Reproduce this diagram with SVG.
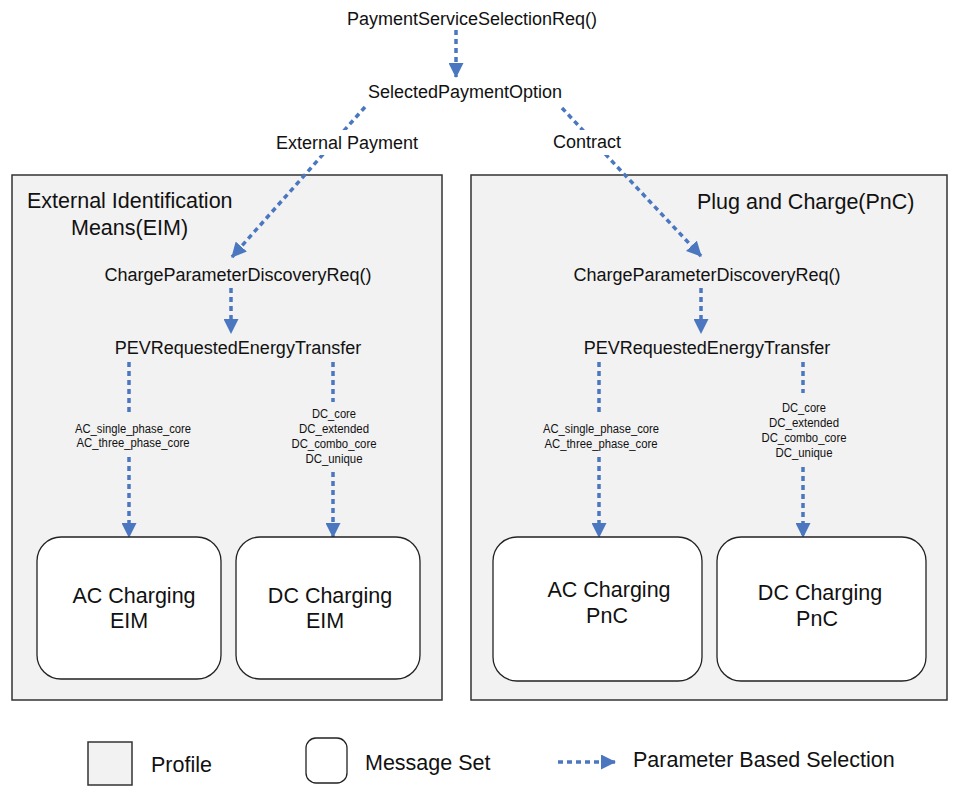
<svg xmlns="http://www.w3.org/2000/svg" width="970" height="800" viewBox="0 0 970 800">
<style>
text{font-family:"Liberation Sans",Arial,sans-serif;fill:#111}
.t18{font-size:18px}
.t20{font-size:21.5px}
.t21{font-size:21.5px}
.t12{font-size:12px}
.mid{text-anchor:middle}
.profile{fill:#f2f2f2;stroke:#333;stroke-width:1.5}
.msg{fill:#fff;stroke:#222;stroke-width:1.3}
.dash{fill:none;stroke:#4a77bf;stroke-width:3.5;stroke-dasharray:5 4}
</style>
<defs>
<marker id="ah" viewBox="0 0 15 15" refX="14" refY="7.5" markerWidth="15" markerHeight="15" markerUnits="userSpaceOnUse" orient="auto">
<path d="M0,0 L15,7.5 L0,15 z" fill="#4a77bf"/>
</marker>
</defs>
<rect width="970" height="800" fill="#fff"/>

<g id="profile-eim">
<rect class="profile" x="12" y="175" width="430" height="525"/>
<text class="t20" x="27" y="208">External Identification</text>
<text class="t20" x="71" y="235">Means(EIM)</text>
</g>
<g id="profile-pnc">
<rect class="profile" x="471" y="175" width="476" height="525"/>
<text class="t20" x="697" y="209">Plug and Charge(PnC)</text>
</g>

<g id="connectors">
<path class="dash" d="M456,30 L456,77" marker-end="url(#ah)"/>
<path class="dash" d="M365,107 L232,257" marker-end="url(#ah)"/>
<path class="dash" d="M562,108 L701,256" marker-end="url(#ah)"/>
<path class="dash" d="M231,288 L231,333" marker-end="url(#ah)"/>
<path class="dash" d="M701,288 L701,333" marker-end="url(#ah)"/>
<path class="dash" d="M129,362 L129,414"/>
<path class="dash" d="M129,457 L129,537" marker-end="url(#ah)"/>
<path class="dash" d="M333,362 L333,402"/>
<path class="dash" d="M333,472 L333,537" marker-end="url(#ah)"/>
<path class="dash" d="M599,362 L599,414"/>
<path class="dash" d="M599,457 L599,537" marker-end="url(#ah)"/>
<path class="dash" d="M803,362 L803,393"/>
<path class="dash" d="M803,467 L803,537" marker-end="url(#ah)"/>
<rect x="272" y="130" width="150" height="25" fill="#fff"/>
<text class="t18 mid" x="347" y="149">External Payment</text>
<rect x="549" y="130" width="76" height="25" fill="#fff"/>
<text class="t18 mid" x="587" y="148">Contract</text>
<text class="t12 mid" x="133" y="433" textLength="116" lengthAdjust="spacingAndGlyphs">AC_single_phase_core</text>
<text class="t12 mid" x="133" y="447" textLength="113" lengthAdjust="spacingAndGlyphs">AC_three_phase_core</text>
<text class="t12 mid" x="334" y="418" textLength="44" lengthAdjust="spacingAndGlyphs">DC_core</text>
<text class="t12 mid" x="334" y="433" textLength="70" lengthAdjust="spacingAndGlyphs">DC_extended</text>
<text class="t12 mid" x="334" y="448" textLength="85" lengthAdjust="spacingAndGlyphs">DC_combo_core</text>
<text class="t12 mid" x="334" y="463" textLength="57" lengthAdjust="spacingAndGlyphs">DC_unique</text>
<text class="t12 mid" x="601" y="433" textLength="116" lengthAdjust="spacingAndGlyphs">AC_single_phase_core</text>
<text class="t12 mid" x="601" y="448" textLength="113" lengthAdjust="spacingAndGlyphs">AC_three_phase_core</text>
<text class="t12 mid" x="804" y="412" textLength="44" lengthAdjust="spacingAndGlyphs">DC_core</text>
<text class="t12 mid" x="804" y="427" textLength="70" lengthAdjust="spacingAndGlyphs">DC_extended</text>
<text class="t12 mid" x="804" y="442" textLength="85" lengthAdjust="spacingAndGlyphs">DC_combo_core</text>
<text class="t12 mid" x="804" y="457" textLength="57" lengthAdjust="spacingAndGlyphs">DC_unique</text>
</g>

<g id="payment-service-selection-req"><text class="t18 mid" x="472" y="25">PaymentServiceSelectionReq()</text></g>
<g id="selected-payment-option"><text class="t18 mid" x="465" y="98">SelectedPaymentOption</text></g>
<g id="cpd-req-eim"><text class="t18 mid" x="238" y="281">ChargeParameterDiscoveryReq()</text></g>
<g id="cpd-req-pnc"><text class="t18 mid" x="707" y="281">ChargeParameterDiscoveryReq()</text></g>
<g id="pev-eim"><text class="t18 mid" x="238" y="354">PEVRequestedEnergyTransfer</text></g>
<g id="pev-pnc"><text class="t18 mid" x="707" y="354">PEVRequestedEnergyTransfer</text></g>

<g id="ac-eim">
<rect class="msg" x="37" y="537" width="184" height="142" rx="24"/>
<text class="t21 mid" x="134" y="603">AC Charging</text>
<text class="t21 mid" x="129" y="628">EIM</text>
</g>
<g id="dc-eim">
<rect class="msg" x="236" y="537" width="184" height="142" rx="24"/>
<text class="t21 mid" x="330" y="603">DC Charging</text>
<text class="t21 mid" x="325" y="628">EIM</text>
</g>
<g id="ac-pnc">
<rect class="msg" x="493" y="537" width="209" height="144" rx="24"/>
<text class="t21 mid" x="609" y="597">AC Charging</text>
<text class="t21 mid" x="607" y="623">PnC</text>
</g>
<g id="dc-pnc">
<rect class="msg" x="717" y="537" width="209" height="144" rx="24"/>
<text class="t21 mid" x="820" y="600">DC Charging</text>
<text class="t21 mid" x="817" y="626">PnC</text>
</g>

<g id="legend">
<rect class="profile" x="88" y="742" width="44" height="43"/>
<text class="t21" x="151" y="772">Profile</text>
<rect class="msg" x="306" y="738" width="41" height="45" rx="10"/>
<text class="t21" x="365" y="770">Message Set</text>
<path class="dash" d="M558,762 L615,762" marker-end="url(#ah)"/>
<text class="t21" x="633" y="767">Parameter Based Selection</text>
</g>
</svg>
